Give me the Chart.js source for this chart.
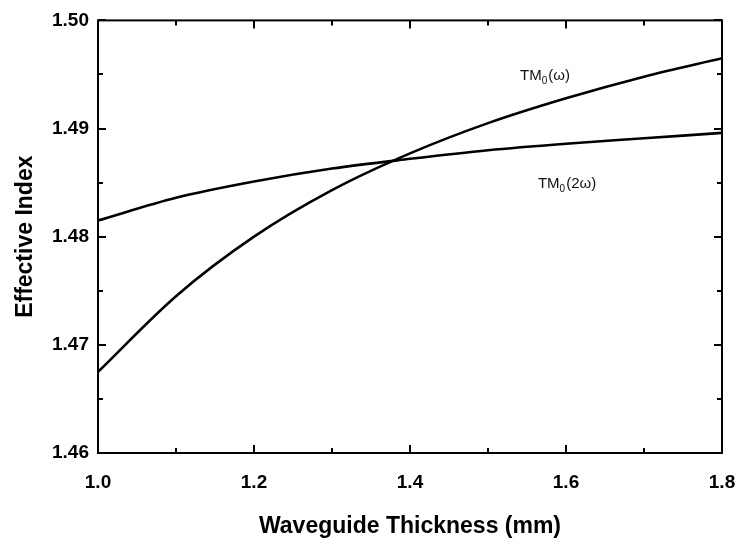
<!DOCTYPE html>
<html>
<head>
<meta charset="utf-8">
<script src="https://cdn.jsdelivr.net/npm/chart.js@4.4.1/dist/chart.umd.min.js"></script>
<style>
  html, body { margin: 0; padding: 0; background: #fff; }
  #wrap { width: 740px; height: 549px; }
</style>
</head>
<body>
<div id="wrap"><canvas id="chart" width="740" height="549"></canvas></div>
<script>
// waveguide thickness (um)
const thickness = [1.0, 1.1, 1.2, 1.3, 1.4, 1.5, 1.6, 1.7, 1.8];
// effective index of the fundamental TM mode
const tmOmega = [1.4675, 1.4745, 1.4800, 1.4843, 1.4877, 1.4905, 1.4928, 1.4948, 1.4965];
const tm2Omega = [1.4815, 1.4836, 1.4851, 1.4863, 1.4872, 1.4880, 1.4886, 1.4891, 1.4896];

const xTicks = [1.0, 1.2, 1.4, 1.6, 1.8];
const yTicks = [1.46, 1.47, 1.48, 1.49, 1.50];

// curve labels: [x, y, text, subscript, rest]
const curveLabels = [
  [1.541, 1.4945, 'TM', '0', '(\u03c9)'],
  [1.564, 1.4845, 'TM', '0', '(2\u03c9)']
];

const FONT = '"Liberation Sans", Arial, sans-serif';

// frame + inward ticks on all four sides
const framePlugin = {
  id: 'frame',
  afterDatasetsDraw(chart) {
    const { ctx, chartArea: a, scales: { x, y } } = chart;
    ctx.save();
    ctx.strokeStyle = '#000';
    ctx.lineWidth = 2;
    ctx.strokeRect(a.left, a.top, a.right - a.left, a.bottom - a.top);

    const tick = (x1, y1, x2, y2) => {
      ctx.beginPath();
      ctx.moveTo(x1, y1);
      ctx.lineTo(x2, y2);
      ctx.stroke();
    };
    for (let i = 0; i <= 8; i++) {
      const v = 1.0 + i * 0.1;
      const len = i % 2 === 0 ? 8 : 5;
      const px = Math.round(x.getPixelForValue(v));
      tick(px, a.bottom, px, a.bottom - len);
      tick(px, a.top, px, a.top + len);
    }
    for (let i = 0; i <= 8; i++) {
      const v = 1.46 + i * 0.005;
      const len = i % 2 === 0 ? 8 : 5;
      const py = Math.round(y.getPixelForValue(v));
      tick(a.left, py, a.left + len, py);
      tick(a.right, py, a.right - len, py);
    }

    // curve labels
    ctx.fillStyle = '#111';
    ctx.textBaseline = 'alphabetic';
    ctx.textAlign = 'left';
    curveLabels.forEach(([lx, ly, main, sub, rest]) => {
      let px = x.getPixelForValue(lx);
      const py = y.getPixelForValue(ly);
      ctx.font = '15px ' + FONT;
      ctx.fillText(main, px, py);
      px += ctx.measureText(main).width;
      ctx.font = '10px ' + FONT;
      ctx.fillText(sub, px, py + 4);
      px += ctx.measureText(sub).width + 1;
      ctx.font = '15px ' + FONT;
      ctx.fillText(rest, px, py);
    });
    ctx.restore();
  }
};

new Chart(document.getElementById('chart'), {
  type: 'line',
  data: {
    labels: thickness,
    datasets: [{
      label: 'TM0(w)',
      data: thickness.map((t, i) => ({ x: t, y: tmOmega[i] })),
      borderColor: '#000',
      borderWidth: 2.6,
      pointRadius: 0,
      cubicInterpolationMode: 'monotone',
      fill: false
    }, {
      label: 'TM0(2w)',
      data: thickness.map((t, i) => ({ x: t, y: tm2Omega[i] })),
      borderColor: '#000',
      borderWidth: 2.6,
      pointRadius: 0,
      cubicInterpolationMode: 'monotone',
      fill: false
    }]
  },
  options: {
    responsive: false,
    animation: false,
    layout: { padding: { top: 18, right: 18, left: 9, bottom: 6 } },
    plugins: {
      legend: { display: false },
      tooltip: { enabled: false }
    },
    scales: {
      x: {
        type: 'linear',
        min: 1.0,
        max: 1.8,
        afterBuildTicks: s => { s.ticks = xTicks.map(v => ({ value: v })); },
        afterFit: s => { s.height = 90; s.paddingRight = 0; s.paddingLeft = 0; },
        grid: { display: false, drawTicks: false },
        border: { display: false },
        ticks: {
          color: '#000',
          padding: 18,
          font: { family: FONT, size: 19, weight: 'bold' },
          callback: v => v.toFixed(1)
        },
        title: {
          display: true,
          text: 'Waveguide Thickness (mm)',
          color: '#000',
          padding: { top: 4, bottom: 3 },
          font: { family: FONT, size: 23, weight: 'bold' }
        }
      },
      y: {
        type: 'linear',
        min: 1.46,
        max: 1.50,
        afterBuildTicks: s => { s.ticks = yTicks.map(v => ({ value: v })); },
        afterFit: s => { s.width = 89; },
        grid: { display: false, drawTicks: false },
        border: { display: false },
        ticks: {
          color: '#000',
          padding: 9,
          font: { family: FONT, size: 19, weight: 'bold' },
          callback: v => v.toFixed(2)
        },
        title: {
          display: true,
          text: 'Effective Index',
          color: '#000',
          padding: { top: 3, bottom: 4 },
          font: { family: FONT, size: 23, weight: 'bold' }
        }
      }
    }
  },
  plugins: [framePlugin]
});
</script>
</body>
</html>
